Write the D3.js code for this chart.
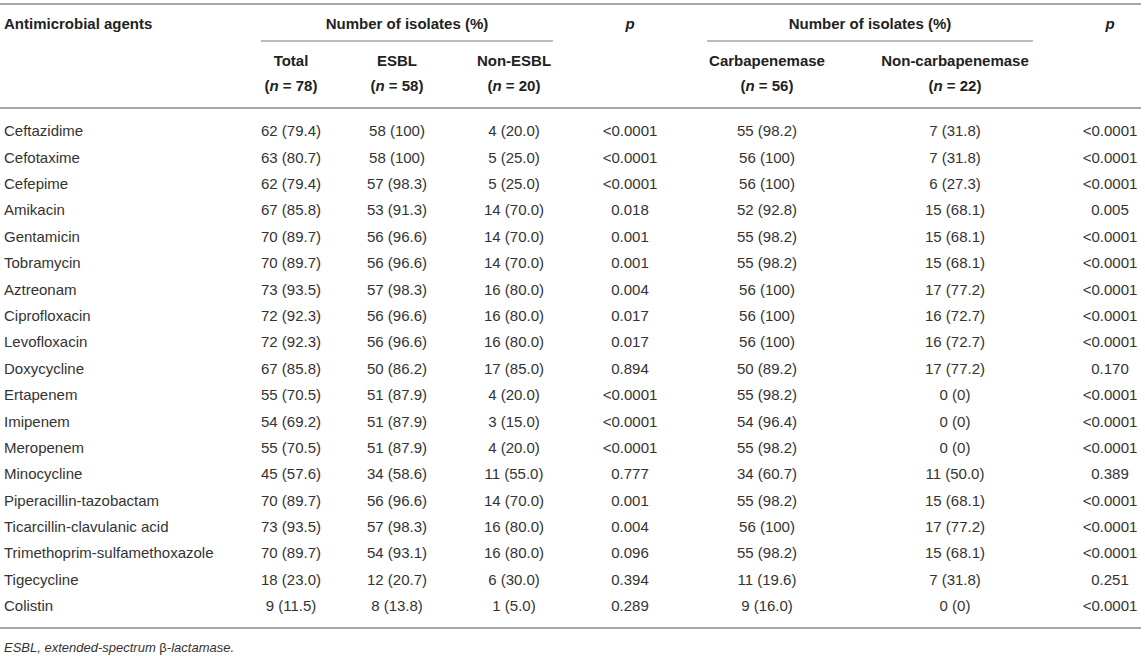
<!DOCTYPE html>
<html>
<head>
<meta charset="utf-8">
<script src="https://cdn.jsdelivr.net/npm/d3@7"></script>
<style>
  body { margin: 0; background: #fff; }
  svg { font-family: "Liberation Sans", Arial, Helvetica, sans-serif; }
</style>
</head>
<body>
<div id="root"></div>
<script>
// Table values
const agents = [
  "Ceftazidime", "Cefotaxime", "Cefepime", "Amikacin", "Gentamicin",
  "Tobramycin", "Aztreonam", "Ciprofloxacin", "Levofloxacin", "Doxycycline",
  "Ertapenem", "Imipenem", "Meropenem", "Minocycline", "Piperacillin-tazobactam",
  "Ticarcillin-clavulanic acid", "Trimethoprim-sulfamethoxazole", "Tigecycline", "Colistin"
];
const total = ["62 (79.4)", "63 (80.7)", "62 (79.4)", "67 (85.8)", "70 (89.7)", "70 (89.7)", "73 (93.5)",
  "72 (92.3)", "72 (92.3)", "67 (85.8)", "55 (70.5)", "54 (69.2)", "55 (70.5)", "45 (57.6)",
  "70 (89.7)", "73 (93.5)", "70 (89.7)", "18 (23.0)", "9 (11.5)"];
const esbl = ["58 (100)", "58 (100)", "57 (98.3)", "53 (91.3)", "56 (96.6)", "56 (96.6)", "57 (98.3)",
  "56 (96.6)", "56 (96.6)", "50 (86.2)", "51 (87.9)", "51 (87.9)", "51 (87.9)", "34 (58.6)",
  "56 (96.6)", "57 (98.3)", "54 (93.1)", "12 (20.7)", "8 (13.8)"];
const nonEsbl = ["4 (20.0)", "5 (25.0)", "5 (25.0)", "14 (70.0)", "14 (70.0)", "14 (70.0)", "16 (80.0)",
  "16 (80.0)", "16 (80.0)", "17 (85.0)", "4 (20.0)", "3 (15.0)", "4 (20.0)", "11 (55.0)",
  "14 (70.0)", "16 (80.0)", "16 (80.0)", "6 (30.0)", "1 (5.0)"];
const pEsbl = ["<0.0001", "<0.0001", "<0.0001", "0.018", "0.001", "0.001", "0.004",
  "0.017", "0.017", "0.894", "<0.0001", "<0.0001", "<0.0001", "0.777",
  "0.001", "0.004", "0.096", "0.394", "0.289"];
const carb = ["55 (98.2)", "56 (100)", "56 (100)", "52 (92.8)", "55 (98.2)", "55 (98.2)", "56 (100)",
  "56 (100)", "56 (100)", "50 (89.2)", "55 (98.2)", "54 (96.4)", "55 (98.2)", "34 (60.7)",
  "55 (98.2)", "56 (100)", "55 (98.2)", "11 (19.6)", "9 (16.0)"];
const nonCarb = ["7 (31.8)", "7 (31.8)", "6 (27.3)", "15 (68.1)", "15 (68.1)", "15 (68.1)", "17 (77.2)",
  "16 (72.7)", "16 (72.7)", "17 (77.2)", "0 (0)", "0 (0)", "0 (0)", "11 (50.0)",
  "15 (68.1)", "17 (77.2)", "15 (68.1)", "7 (31.8)", "0 (0)"];
const pCarb = ["<0.0001", "<0.0001", "<0.0001", "0.005", "<0.0001", "<0.0001", "<0.0001",
  "<0.0001", "<0.0001", "0.170", "<0.0001", "<0.0001", "<0.0001", "0.389",
  "<0.0001", "<0.0001", "<0.0001", "0.251", "<0.0001"];

const colKeys = ["total", "esbl", "nonEsbl", "pEsbl", "carb", "nonCarb", "pCarb"];
const colHeads = ["Total", "ESBL", "Non-ESBL", "", "Carbapenemase", "Non-carbapenemase", ""];
const colN = ["78", "58", "20", "", "56", "22", ""];
const columns = [total, esbl, nonEsbl, pEsbl, carb, nonCarb, pCarb];

const width = 1145;
const height = 656;
const fontSize = 15;

const svg = d3.select("#root")
  .append("svg")
  .attr("width", width)
  .attr("height", height)
  .attr("viewBox", `0 0 ${width} ${height}`);

// column centres
const xCol = d3.scaleOrdinal()
  .domain(colKeys)
  .range([291, 397, 514, 630, 767, 955, 1110]);

// row centres
const yRow = d3.scalePoint()
  .domain(agents)
  .range([131, 606]);

const ruleColor = "#a6a6a6";
const textColor = "#333";
const headColor = "#222";

const rule = (x1, x2, y, w) => svg.append("line")
  .attr("x1", x1).attr("x2", x2)
  .attr("y1", y).attr("y2", y)
  .attr("stroke", ruleColor)
  .attr("stroke-width", w);

rule(0, 1141, 4, 2);
rule(261, 553, 41, 1.3);
rule(707, 1033, 41, 1.3);
rule(0, 1141, 108, 2);
rule(0, 1141, 628, 2);

const head = svg.append("g")
  .attr("font-weight", "bold")
  .attr("font-size", fontSize)
  .attr("fill", headColor);

head.append("text")
  .attr("x", 4).attr("y", 24)
  .attr("dy", "0.35em")
  .text("Antimicrobial agents");

[[261, 553], [707, 1033]].forEach(([a, b]) => {
  head.append("text")
    .attr("x", (a + b) / 2).attr("y", 24)
    .attr("dy", "0.35em")
    .attr("text-anchor", "middle")
    .text("Number of isolates (%)");
});

["pEsbl", "pCarb"].forEach((k) => {
  head.append("text")
    .attr("x", xCol(k)).attr("y", 24)
    .attr("dy", "0.35em")
    .attr("text-anchor", "middle")
    .attr("font-style", "italic")
    .text("p");
});

colKeys.forEach((k, i) => {
  if (!colHeads[i]) return;
  head.append("text")
    .attr("x", xCol(k)).attr("y", 61)
    .attr("dy", "0.35em")
    .attr("text-anchor", "middle")
    .text(colHeads[i]);
  const t = head.append("text")
    .attr("x", xCol(k)).attr("y", 86)
    .attr("dy", "0.35em")
    .attr("text-anchor", "middle");
  t.append("tspan").text("(");
  t.append("tspan").attr("font-style", "italic").text("n");
  t.append("tspan").text(` = ${colN[i]})`);
});

const body = svg.append("g")
  .attr("font-size", fontSize)
  .attr("fill", textColor);

body.selectAll("text.agent")
  .data(agents)
  .join("text")
  .attr("class", "agent")
  .attr("x", 4)
  .attr("y", (d) => yRow(d))
  .attr("dy", "0.35em")
  .text((d) => d);

columns.forEach((vals, ci) => {
  body.selectAll(`text.c${ci}`)
    .data(vals)
    .join("text")
    .attr("class", `c${ci}`)
    .attr("x", xCol(colKeys[ci]))
    .attr("y", (d, i) => yRow(agents[i]))
    .attr("dy", "0.35em")
    .attr("text-anchor", "middle")
    .text((d) => d);
});

const foot = svg.append("text")
  .attr("x", 4).attr("y", 647)
  .attr("dy", "0.35em")
  .attr("font-size", 13)
  .attr("fill", textColor);
foot.append("tspan").attr("font-style", "italic").text("ESBL, extended-spectrum ");
foot.append("tspan").text("β");
foot.append("tspan").attr("font-style", "italic").text("-lactamase.");
</script>
</body>
</html>
